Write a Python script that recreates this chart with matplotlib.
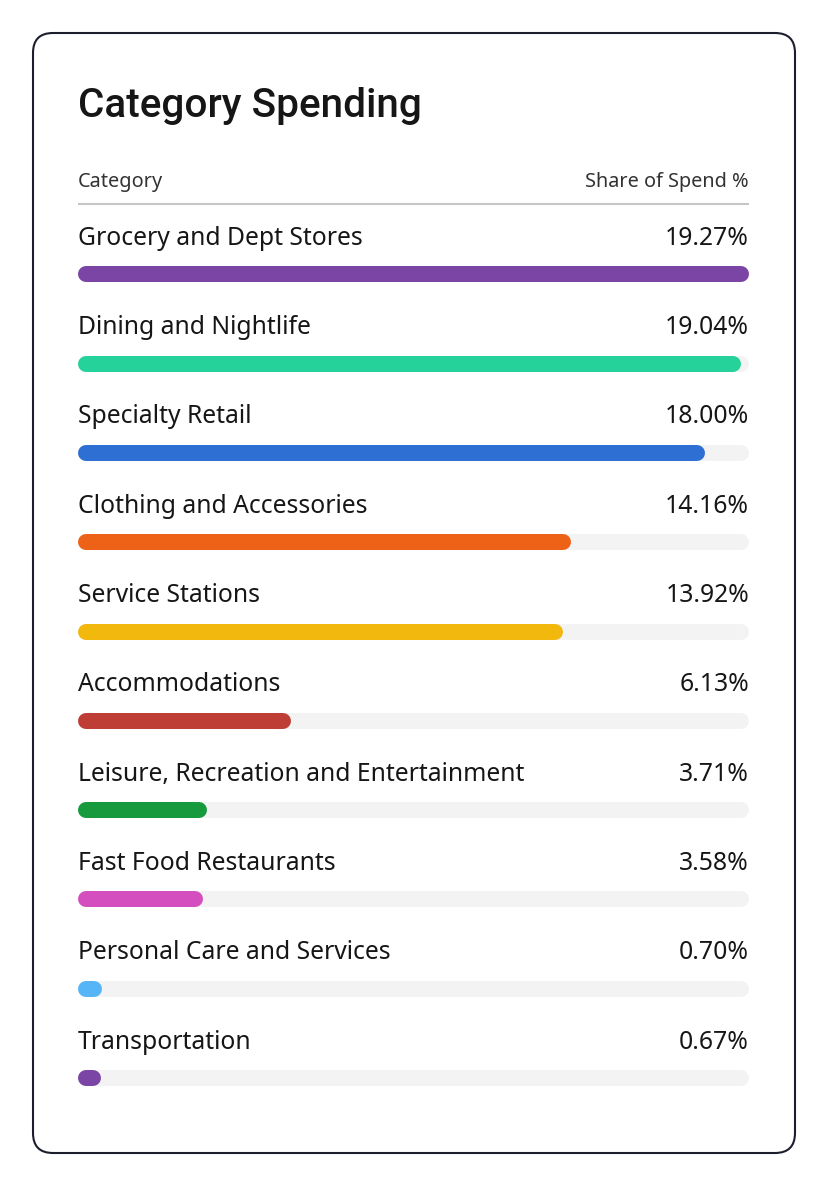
import numpy as np
import matplotlib.pyplot as plt
from matplotlib.patches import FancyBboxPatch

# dados
categorias = [
    "Grocery and Dept Stores",
    "Dining and Nightlife",
    "Specialty Retail",
    "Clothing and Accessories",
    "Service Stations",
    "Accommodations",
    "Leisure, Recreation and Entertainment",
    "Fast Food Restaurants",
    "Personal Care and Services",
    "Transportation",
]
share = [19.27, 19.04, 18.00, 14.16, 13.92, 6.13, 3.71, 3.58, 0.70, 0.67]
cores = ["#7B45A6", "#25D39A", "#2E6FD4", "#EE6218", "#F2B80E",
         "#BE3D35", "#179A3D", "#D54EC0", "#55B5F7", "#7B45A6"]

FONT = "Noto Sans"
W, H = 827, 1200
fig = plt.figure(figsize=(W / 100, H / 100), dpi=100)
fig.patch.set_facecolor("white")

# fundo em pixels: cartão, título e cabeçalho
bg = fig.add_axes([0, 0, 1, 1])
bg.set_xlim(0, W)
bg.set_ylim(H, 0)
bg.axis("off")

card = FancyBboxPatch((33, 33), 762, 1120, boxstyle="round,pad=0,rounding_size=20",
                      facecolor="white", edgecolor="#1c1e2e", linewidth=1.5)
bg.add_patch(card)

bg.text(78, 117, "Category Spending", fontsize=29.2, fontweight="medium",
        family=["Roboto", FONT], color="#161616", va="baseline", ha="left")
bg.text(78, 187, "Category", fontsize=14.3, family=FONT, color="#333333",
        va="baseline", ha="left")
bg.text(749, 187, "Share of Spend %", fontsize=14.3, family=FONT, color="#333333",
        va="baseline", ha="right")
bg.plot([78, 749], [204, 204], color="#c6c6c6", linewidth=1.5, solid_capstyle="butt")

# eixo das barras, alinhado com a trilha cinza
x0, x1 = 78, 749
y_first, passo = 274.4, 89.29
n = len(categorias)
topo = y_first - passo / 2
altura = passo * n
ax = fig.add_axes([x0 / W, 1 - (topo + altura) / H, (x1 - x0) / W, altura / H])
vmax = max(share)
ax.set_xlim(0, vmax)
ax.set_ylim(n - 0.5, -0.5)
ax.axis("off")

bar_px = 16
lw = bar_px * 72 / 100
r = (bar_px / 2) * vmax / (x1 - x0)
off = 29.5 / passo  # distância da linha de base do texto ao centro da barra

for i, (cat, v, c) in enumerate(zip(categorias, share, cores)):
    ax.plot([r, vmax - r], [i, i], color="#f3f3f3", linewidth=lw, solid_capstyle="round")
    ax.plot([r, max(v - r, r)], [i, i], color=c, linewidth=lw, solid_capstyle="round")
    ax.text(0, i - off, cat, fontsize=17.8, family=FONT, color="#161616",
            va="baseline", ha="left")
    ax.text(vmax, i - off, f"{v:.2f}%", fontsize=17.8, family=FONT, color="#161616",
            va="baseline", ha="right")

fig.savefig("out.png", dpi=100)
